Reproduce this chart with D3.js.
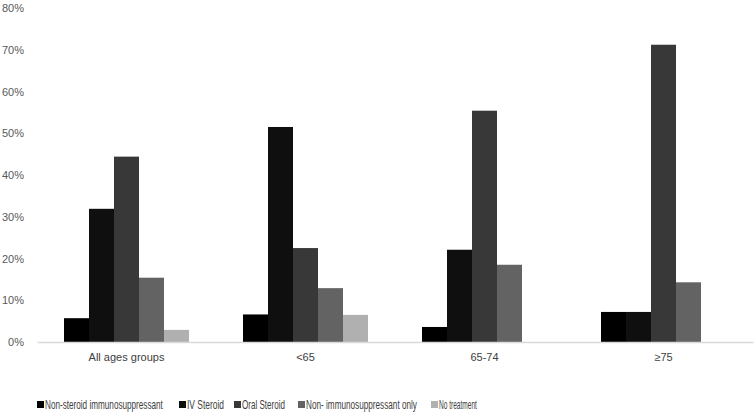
<!DOCTYPE html>
<html>
<head>
<meta charset="utf-8">
<script src="https://cdn.jsdelivr.net/npm/d3@7"></script>
<style>
  body { margin: 0; background: #fff; }
  text { font-family: "Liberation Sans", Arial, sans-serif; }
</style>
</head>
<body>
<div id="chart-area"></div>
<script>
// data
const groups = ["All ages groups", "<65", "65-74", "≥75"];
const seriesNames = ["Non-steroid immunosuppressant", "IV Steroid", "Oral Steroid", "Non- immunosuppressant only", "No treatment"];
const nonSteroid = [5.7, 6.6, 3.6, 7.2];
const ivSteroid = [31.9, 51.5, 22.1, 7.2];
const oralSteroid = [44.4, 22.5, 55.4, 71.2];
const nonImmuno = [15.4, 12.9, 18.5, 14.3];
const noTreatment = [2.9, 6.5, 0, 0];
const yTicks = [0, 10, 20, 30, 40, 50, 60, 70, 80];

const seriesValues = [nonSteroid, ivSteroid, oralSteroid, nonImmuno, noTreatment];
const colors = ["#000000", "#0f0f0f", "#383838", "#636363", "#b0b0b0"];

// graph area
const canvas = { width: 755, height: 412 };
const margin = { left: 37, right: 2, top: 8, bottom: 70 };
const graph = { width: canvas.width - margin.left - margin.right, height: canvas.height - margin.top - margin.bottom };
const fontStack = "'Liberation Sans', Arial, sans-serif";

const svg = d3.select("#chart-area").append("svg").attr("width", canvas.width).attr("height", canvas.height);
const g = svg.append("g").attr("transform", "translate(" + margin.left + "," + margin.top + ")");

// scales
const x0 = d3.scaleBand().domain(groups).range([0, graph.width]);
const x1 = d3.scaleBand().domain(d3.range(seriesNames.length)).range([27, x0.bandwidth() - 27]);
const y = d3.scaleLinear().domain([0, 80]).range([graph.height, 0]);

// y tick labels (no axis line)
const yAxisCall = d3.axisLeft(y).tickValues(yTicks).tickFormat(d => d + "%").tickSize(0).tickPadding(13);
const yAxis = g.append("g").call(yAxisCall);
yAxis.select(".domain").remove();
yAxis.selectAll("text").attr("font-size", 11).attr("fill", "#595959").style("font-family", fontStack);

// bars
const table = groups.map((grp, i) => ({ grp, vals: seriesValues.map(s => s[i]) }));
const groupsG = g.selectAll(".grp").data(table).enter().append("g")
  .attr("transform", d => "translate(" + x0(d.grp) + ",0)");
groupsG.selectAll("rect").data(d => d.vals.map((v, k) => ({ v, k }))).enter().append("rect")
  .attr("x", d => x1(d.k))
  .attr("width", x1.bandwidth())
  .attr("y", d => y(d.v))
  .attr("height", d => graph.height - y(d.v))
  .attr("fill", d => colors[d.k]);

// x axis
const xAxisCall = d3.axisBottom(x0).tickSize(0).tickPadding(11);
const xAxis = g.append("g").attr("transform", "translate(0," + graph.height + ")").call(xAxisCall);
xAxis.select(".domain").attr("stroke", "#d9d9d9").attr("stroke-width", 1.5);
xAxis.selectAll("text").attr("font-size", 11).attr("fill", "#404040").style("font-family", fontStack);

// legend - text squeezed horizontally to mimic the narrow font of the original
const legendX = [37, 179, 234, 298, 431];
const legendW = [118, 37, 43, 111, 38];
const legend = svg.append("g");
seriesNames.forEach((name, k) => {
  legend.append("rect").attr("x", legendX[k]).attr("y", 401).attr("width", 7).attr("height", 7).attr("fill", colors[k]);
  const t = legend.append("text").attr("font-size", 12).attr("fill", "#404040").text(name);
  const sx = legendW[k] / t.node().getComputedTextLength();
  t.attr("transform", "translate(" + (legendX[k] + 8) + ",409) scale(" + sx + ",1)");
});
</script>
</body>
</html>
